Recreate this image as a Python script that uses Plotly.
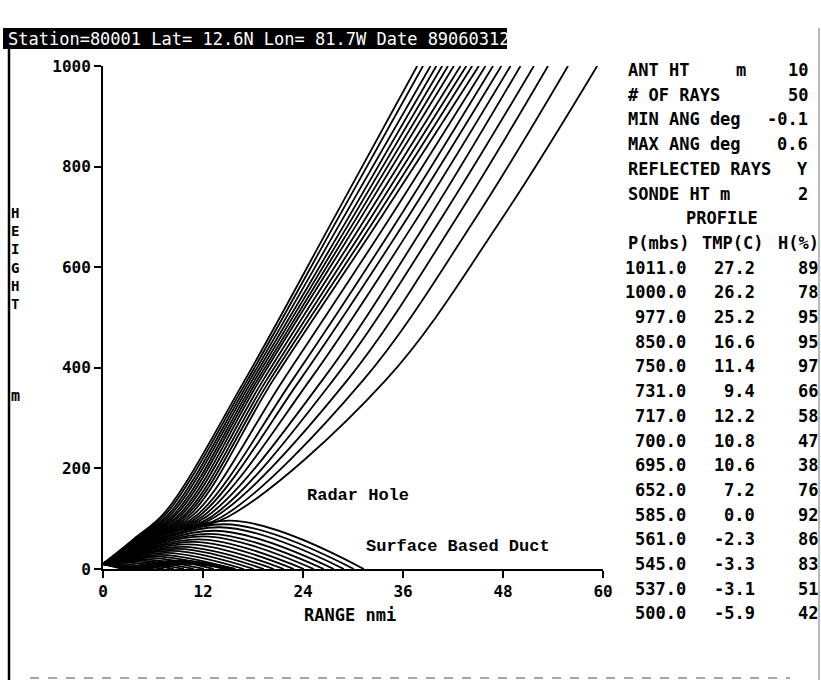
import plotly.graph_objects as go

# ---------------------------------------------------------------- run header
STATION_LINE = "Station=80001 Lat= 12.6N Lon= 81.7W Date 89060312"

RUN_LABELS = ["ANT HT", "# OF RAYS", "MIN ANG deg", "MAX ANG deg", "REFLECTED RAYS", "SONDE HT m"]
RUN_UNITS = ["m", "", "", "", "", ""]
RUN_VALUES = ["10", "50", "-0.1", "0.6", "Y", "2"]

# ---------------------------------------------------------------- sounding profile
PRESSURE_MB = [1011.0, 1000.0, 977.0, 850.0, 750.0, 731.0, 717.0, 700.0,
               695.0, 652.0, 585.0, 561.0, 545.0, 537.0, 500.0]
TEMP_C = [27.2, 26.2, 25.2, 16.6, 11.4, 9.4, 12.2, 10.8,
          10.6, 7.2, 0.0, -2.3, -3.3, -3.1, -5.9]
RH_PCT = [89, 78, 95, 95, 97, 66, 58, 47, 38, 76, 92, 86, 83, 51, 42]

# ---------------------------------------------------------------- axes
X_TICKS = [0, 12, 24, 36, 48, 60]
Y_TICKS = [0, 200, 400, 600, 800, 1000]
ANT_HT_M = 10

# ---------------------------------------------------------------- escaping rays (range nmi at key heights)
ESC_MID_NMI = [3.7, 3.9, 4.0, 4.2, 4.3, 4.5, 4.6, 4.8, 4.9, 5.1,
               5.2, 5.4, 5.6, 5.8, 6.0, 6.3, 6.5, 6.8, 7.1, 7.5]
ESC_MID_M = [60, 60, 60, 61, 61, 61, 62, 62, 62, 63,
             63, 63, 64, 64, 65, 66, 67, 68, 69, 70]
ESC_EXIT_NMI = [7.4, 7.7, 8.0, 8.3, 8.6, 8.9, 9.2, 9.5, 9.8, 10.1,
                10.4, 10.8, 11.2, 11.6, 12.0, 12.5, 13.0, 13.5, 14.2, 14.9]
ESC_EXIT_M = [112, 112, 111, 111, 110, 110, 109, 109, 108, 108,
              107, 107, 106, 106, 105, 105, 104, 104, 103, 103]
ESC_AT_375 = [17.0, 17.3, 17.6, 17.9, 18.2, 18.5, 18.8, 19.2, 19.6, 20.0,
              20.4, 21.6, 22.7, 23.6, 24.8, 26.3, 27.6, 29.3, 31.2, 33.9]
ESC_AT_700 = [27.8, 28.3, 28.9, 29.5, 30.0, 30.5, 31.0, 31.6, 32.2, 32.8,
              33.4, 34.5, 35.6, 36.6, 37.8, 39.2, 40.7, 42.5, 44.8, 48.0]
ESC_AT_1000 = [37.7, 38.4, 39.3, 40.0, 40.7, 41.4, 42.1, 42.9, 43.6, 44.3,
               45.1, 45.9, 46.8, 47.8, 48.9, 50.1, 51.7, 53.4, 55.8, 59.3]

# ---------------------------------------------------------------- ducted rays (apex and landing)
TRAP_APEX_NMI = [15.2, 14.6, 14.0, 13.4, 12.7, 12.1, 11.5, 10.9, 10.2, 9.6, 9.0,
                 8.3, 7.6, 7.0, 6.3, 5.6, 4.9, 4.2, 3.5, 2.7, 1.8, 0.8]
TRAP_APEX_M = [96, 89, 83, 76, 70, 65, 59, 54, 49, 44, 40,
               36, 32, 28, 25, 22, 19, 17, 15, 13, 11, 10]
TRAP_LAND_NMI = [31.3, 30.1, 28.9, 27.7, 26.5, 25.3, 24.1, 22.9, 21.7, 20.5, 19.3,
                 18.1, 16.9, 15.7, 14.5, 13.3, 12.1, 10.9, 9.7, 8.5, 7.3, 6.1]

# ---------------------------------------------------------------- downward rays reflected off the surface
REFL_HIT_NMI = [5.0, 4.5, 4.1, 3.7, 3.3, 3.0, 2.7, 2.4]
REFL_APEX_NMI = [10.2, 9.9, 9.7, 9.5, 9.3, 9.2, 9.2, 9.2]
REFL_APEX_M = [10, 11, 12, 13, 14, 15, 16, 17]
REFL_LAND_NMI = [15.4, 15.3, 15.3, 15.3, 15.4, 15.5, 15.7, 15.9]

# ---------------------------------------------------------------- page geometry (pixels)
W, H = 821, 680
PX0, PX1 = 103, 603      # x = 0 .. 60 nmi
PY0, PY1 = 569, 66       # y = 0 .. 1000 m


def fx(px):
    return (px - PX0) / (PX1 - PX0)


def fy(py):
    return (PY0 - py) / (PY0 - PY1)


BOLD = dict(family="DejaVu Sans Mono", size=17, color="black", weight="bold")
LINE = dict(color="black", width=1.8, shape="spline", smoothing=1.0)

fig = go.Figure()

# escaping rays
xs, ys = [], []
for i in range(len(ESC_AT_1000)):
    xs += [0, ESC_MID_NMI[i], ESC_EXIT_NMI[i], ESC_AT_375[i], ESC_AT_700[i], ESC_AT_1000[i], None]
    ys += [ANT_HT_M, ESC_MID_M[i], ESC_EXIT_M[i], 375, 700, 1000, None]
fig.add_trace(go.Scatter(x=xs, y=ys, mode="lines", line=LINE, hoverinfo="skip"))

# trapped rays
xs, ys = [], []
for i in range(len(TRAP_LAND_NMI)):
    xs += [0, TRAP_APEX_NMI[i], TRAP_LAND_NMI[i], None]
    ys += [ANT_HT_M, TRAP_APEX_M[i], 0, None]
fig.add_trace(go.Scatter(x=xs, y=ys, mode="lines", line=LINE, hoverinfo="skip"))

# reflected rays
xs, ys = [], []
for i in range(len(REFL_HIT_NMI)):
    xs += [0, REFL_HIT_NMI[i], None, REFL_HIT_NMI[i], REFL_APEX_NMI[i], REFL_LAND_NMI[i], None]
    ys += [ANT_HT_M, 0, None, 0, REFL_APEX_M[i], 0, None]
fig.add_trace(go.Scatter(x=xs, y=ys, mode="lines", line=LINE, hoverinfo="skip"))

ann = []
shapes = []

# station banner
shapes.append(dict(type="rect", xref="paper", yref="paper",
                   x0=fx(3), x1=fx(507), y0=fy(49), y1=fy(28),
                   fillcolor="black", line=dict(width=0), layer="above"))
ann.append(dict(text=STATION_LINE, x=fx(6), y=fy(39), xanchor="left", yanchor="middle",
                font=dict(family="DejaVu Sans Mono", size=17, color="white")))

# page frame
shapes.append(dict(type="line", xref="paper", yref="paper", x0=fx(9), x1=fx(9),
                   y0=fy(49), y1=fy(680), line=dict(color="black", width=2.5)))
shapes.append(dict(type="line", xref="paper", yref="paper", x0=fx(819), x1=fx(819),
                   y0=fy(28), y1=fy(680), line=dict(color="#777777", width=1)))
shapes.append(dict(type="line", xref="paper", yref="paper", x0=fx(30), x1=fx(790),
                   y0=fy(678), y1=fy(678), line=dict(color="#888888", width=1.5, dash="dash")))

# vertical axis title, letters stacked
ann.append(dict(text="<br>".join("HEIGHT"), x=fx(15), y=fy(258), xanchor="center",
                yanchor="middle", font=dict(BOLD, size=14)))
ann.append(dict(text="m", x=fx(15), y=fy(396), xanchor="center", yanchor="middle",
                font=dict(BOLD, size=15)))

# horizontal axis title
ann.append(dict(text="RANGE nmi", x=fx(350), y=fy(615), xanchor="center", yanchor="middle",
                font=BOLD))

# region labels
LBL = dict(family="Liberation Mono", size=17, color="black", weight="bold")
ann.append(dict(text="Radar Hole", x=24.2, y=147, xref="x", yref="y",
                xanchor="left", yanchor="middle", font=LBL))
ann.append(dict(text="Surface Based Duct", x=31.3, y=44, xref="x", yref="y",
                xanchor="left", yanchor="middle", font=LBL))

# run parameter table
ROW0, ROWSTEP = 70, 24.7
for i, (lab, unit, val) in enumerate(zip(RUN_LABELS, RUN_UNITS, RUN_VALUES)):
    yy = fy(ROW0 + ROWSTEP * i)
    ann.append(dict(text=lab, x=fx(626), y=yy, xanchor="left", yanchor="middle", font=BOLD))
    if unit:
        ann.append(dict(text=unit, x=fx(741), y=yy, xanchor="center", yanchor="middle", font=BOLD))
    ann.append(dict(text=val, x=fx(810), y=yy, xanchor="right", yanchor="middle", font=BOLD))

ann.append(dict(text="PROFILE", x=fx(722), y=fy(ROW0 + ROWSTEP * 6), xanchor="center",
                yanchor="middle", font=BOLD))
yy = fy(ROW0 + ROWSTEP * 7)
ann.append(dict(text="P(mbs)", x=fx(626), y=yy, xanchor="left", yanchor="middle", font=BOLD))
ann.append(dict(text="TMP(C)", x=fx(700), y=yy, xanchor="left", yanchor="middle", font=BOLD))
ann.append(dict(text="H(%)", x=fx(821), y=yy, xanchor="right", yanchor="middle", font=BOLD))

for j, (p, t, h) in enumerate(zip(PRESSURE_MB, TEMP_C, RH_PCT)):
    yy = fy(ROW0 + ROWSTEP * (8 + j))
    ann.append(dict(text=f"{p:.1f}", x=fx(688), y=yy, xanchor="right", yanchor="middle", font=BOLD))
    ann.append(dict(text=f"{t:.1f}", x=fx(757), y=yy, xanchor="right", yanchor="middle", font=BOLD))
    ann.append(dict(text=f"{h:d}", x=fx(820), y=yy, xanchor="right", yanchor="middle", font=BOLD))

for a in ann:
    a.setdefault("xref", "paper")
    a.setdefault("yref", "paper")
    a["showarrow"] = False

AX = dict(showgrid=False, zeroline=False, showline=True, linecolor="black", linewidth=2,
          ticks="outside", ticklen=7, tickwidth=2, tickcolor="black",
          tickfont=dict(family="DejaVu Sans Mono", size=16, color="black", weight="bold"))

fig.update_layout(
    width=W, height=H,
    margin=dict(l=PX0, r=W - PX1, t=PY1, b=H - PY0, pad=0),
    paper_bgcolor="white", plot_bgcolor="white",
    showlegend=False,
    xaxis=dict(AX, range=[0, 60], tickvals=X_TICKS, ticktext=[str(v) for v in X_TICKS]),
    yaxis=dict(AX, range=[0, 1000], tickvals=Y_TICKS, ticktext=[str(v) for v in Y_TICKS]),
    annotations=ann,
    shapes=shapes,
)

fig.write_html("out.html")
